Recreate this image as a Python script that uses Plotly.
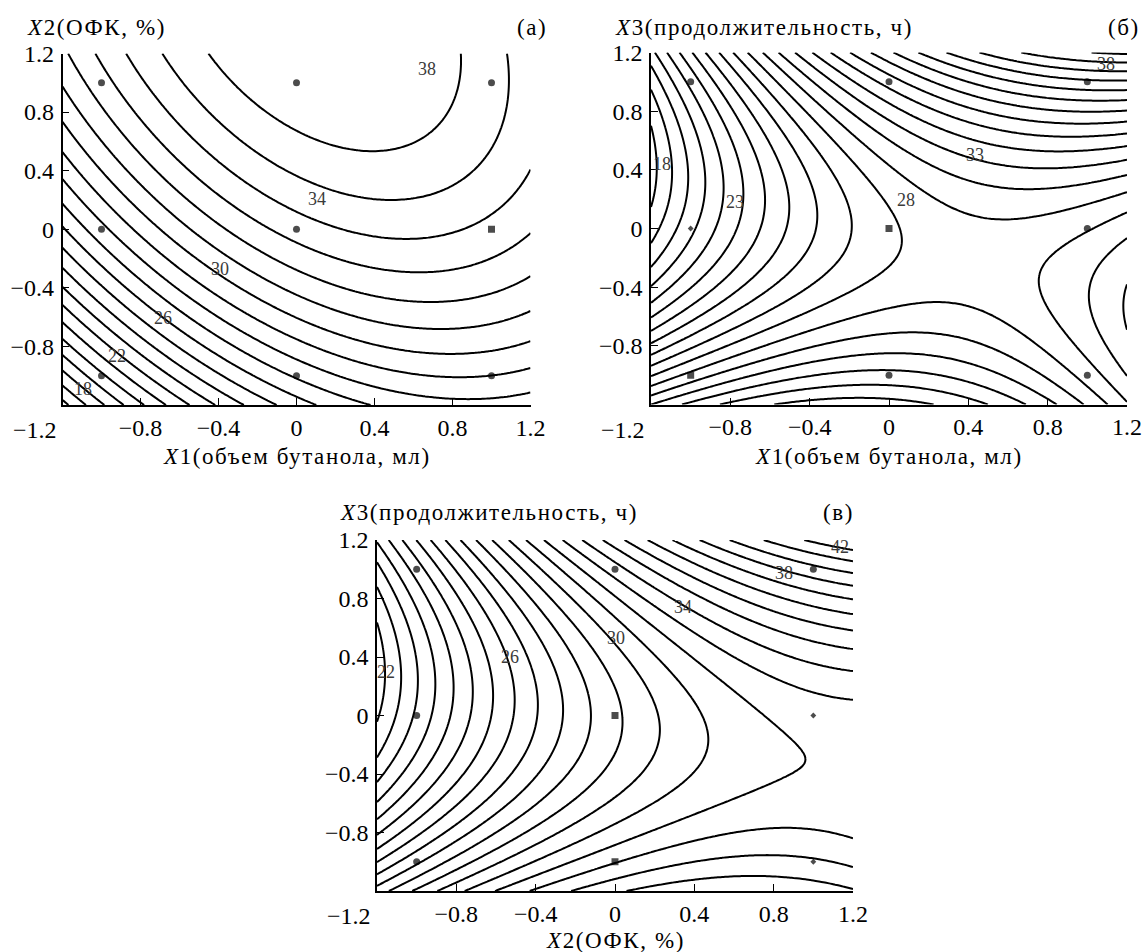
import numpy as np
import plotly.graph_objects as go

# ---------------- data ----------------
# quadratic response-surface coefficients read from the contour geometry
# order: [b0, b_x, b_y, b_xy, b_xx, b_yy]
coef_a = [33.45, 3.0, 4.8, -1.6, -2.76, -1.5]      # (а) X1 vs X2
coef_b = [27.81, 3.673, 0.570, 4.06, -3.39, 5.08]  # (б) X1 vs X3
coef_c = [28.78, 6.133, 0.311, 2.46, -2.46, 4.456] # (в) X2 vs X3

levels_a = [16, 36]
levels_b = [17, 41]
levels_c = [18, 42]

# design points (coded levels)
design_x = [-1, 0, 1, -1, 0, 1, -1, 0, 1]
design_y = [1, 1, 1, 0, 0, 0, -1, -1, -1]
sym_a = ["circle", "circle", "circle", "circle", "circle", "square", "circle", "circle", "circle"]
sym_b = ["circle", "circle", "circle", "diamond", "square", "circle", "square", "circle", "circle"]
sym_c = ["circle", "circle", "circle", "circle", "square", "diamond", "circle", "square", "diamond"]

# contour label texts and where they sit
lab_a = ["18", "22", "26", "30", "34", "38"]
lab_a_x = [-1.094, -0.923, -0.684, -0.393, 0.103, 0.667]
lab_a_y = [-1.094, -0.867, -0.604, -0.274, 0.205, 1.094]
lab_b = ["18", "23", "28", "33", "38"]
lab_b_x = [-1.144, -0.778, 0.084, 0.432, 1.096]
lab_b_y = [0.44, 0.184, 0.193, 0.5, 1.125]
lab_c = ["22", "26", "30", "34", "38", "42"]
lab_c_x = [-1.156, -0.531, 0.004, 0.342, 0.854, 1.134]
lab_c_y = [0.30, 0.40, 0.528, 0.744, 0.972, 1.15]

tick_vals = [-1.2, -0.8, -0.4, 0, 0.4, 0.8, 1.2]
tick_text_x = ["", "\u22120.8", "\u22120.4", "0", "0.4", "0.8", "1.2"]
tick_text_y = ["", "\u22120.8", "\u22120.4", "0", "0.4", "0.8", "1.2"]
first_tick_text = "\u22121.2"

# ---------------- figure ----------------
W, H = 1146, 952
FONT = "Liberation Serif"
TICK_SIZE = 24
TITLE_SIZE = 23
SPACED = '<span style="letter-spacing:1.6px">{}</span>'
grid = np.linspace(-1.2, 1.2, 161)
GX, GY = np.meshgrid(grid, grid)


def surface(c):
    return c[0] + c[1] * GX + c[2] * GY + c[3] * GX * GY + c[4] * GX ** 2 + c[5] * GY ** 2


fig = go.Figure()
panels = [
    (coef_a, levels_a, sym_a, "x", "y"),
    (coef_b, levels_b, sym_b, "x2", "y2"),
    (coef_c, levels_c, sym_c, "x3", "y3"),
]
for coef, lev, syms, xa, ya in panels:
    fig.add_trace(go.Contour(
        x=grid, y=grid, z=surface(coef),
        contours=dict(start=lev[0], end=lev[1], size=1, coloring="lines", showlabels=False),
        colorscale=[[0, "black"], [1, "black"]],
        line=dict(color="black", width=2.0, smoothing=1.0),
        showscale=False, hoverinfo="skip", xaxis=xa, yaxis=ya,
    ))
    sizes = [4.5 if s == "diamond" else 7 for s in syms]
    fig.add_trace(go.Scatter(
        x=design_x, y=design_y, mode="markers",
        marker=dict(symbol=syms, size=sizes, color="black", line=dict(width=0)),
        hoverinfo="skip", showlegend=False, xaxis=xa, yaxis=ya,
    ))

ann = []
for labs, lx, ly, xa, ya in [(lab_a, lab_a_x, lab_a_y, "x", "y"),
                             (lab_b, lab_b_x, lab_b_y, "x2", "y2"),
                             (lab_c, lab_c_x, lab_c_y, "x3", "y3")]:
    for t, xx, yy in zip(labs, lx, ly):
        ann.append(dict(x=xx, y=yy, xref=xa, yref=ya, text=t, showarrow=False,
                        font=dict(family=FONT, size=18, color="#3a3a3a")))


def px(x):
    return x / W


def py(y):
    return 1 - y / H


texts = [
    ("<i>X</i>2(ОФК, %)", 25, 27, "left"),
    ("(а)", 549, 27, "right"),
    ("<i>X</i>3(продолжительность, ч)", 613, 27, "left"),
    ("(б)", 1142, 27, "right"),
    ("<i>X</i>1(объем бутанола, мл)", 297, 456, "center"),
    ("<i>X</i>1(объем бутанола, мл)", 889, 456, "center"),
    ("<i>X</i>3(продолжительность, ч)", 338, 512, "left"),
    ("(в)", 856, 512, "right"),
    ("<i>X</i>2(ОФК, %)", 615, 940, "center"),
]
for t, x, y, anc in texts:
    ann.append(dict(x=px(x), y=py(y), xref="paper", yref="paper", text=SPACED.format(t),
                    showarrow=False, xanchor=anc, yanchor="middle",
                    font=dict(family=FONT, size=TITLE_SIZE, color="black")))

# the leftmost x tick label sits left of the y axis in the original
for xa, ylab in [("x", 430), ("x2", 430), ("x3", 916)]:
    ann.append(dict(x=-1.2, y=py(ylab), xref=xa, yref="paper", text=first_tick_text,
                    showarrow=False, xanchor="right", yanchor="middle", xshift=-4,
                    font=dict(family=FONT, size=TICK_SIZE, color="black")))

axis_common = dict(range=[-1.2, 1.2], showline=True, linecolor="black", linewidth=1.5,
                   mirror=False, ticks="inside", ticklen=7, tickwidth=1.3, tickcolor="black",
                   showgrid=False, zeroline=False, tickvals=tick_vals, automargin=False,
                   tickfont=dict(family=FONT, size=TICK_SIZE, color="black"))

domains = {
    "": ([62.5, 530.5], [53.5, 405]),
    "2": ([651, 1127], [52.5, 404.5]),
    "3": ([377, 853], [540, 891]),
}
layout = dict(width=W, height=H, margin=dict(l=0, r=0, t=0, b=0),
              paper_bgcolor="white", plot_bgcolor="white", showlegend=False,
              annotations=ann)
for k, (dx, dy) in domains.items():
    layout["xaxis" + k] = dict(axis_common, domain=[px(dx[0]), px(dx[1])],
                               ticktext=tick_text_x, anchor="y" + k)
    layout["yaxis" + k] = dict(axis_common, domain=[py(dy[1]), py(dy[0])],
                               ticktext=tick_text_y, anchor="x" + k, ticklabelstandoff=2)
fig.update_layout(**layout)
fig.write_html("out.html")
